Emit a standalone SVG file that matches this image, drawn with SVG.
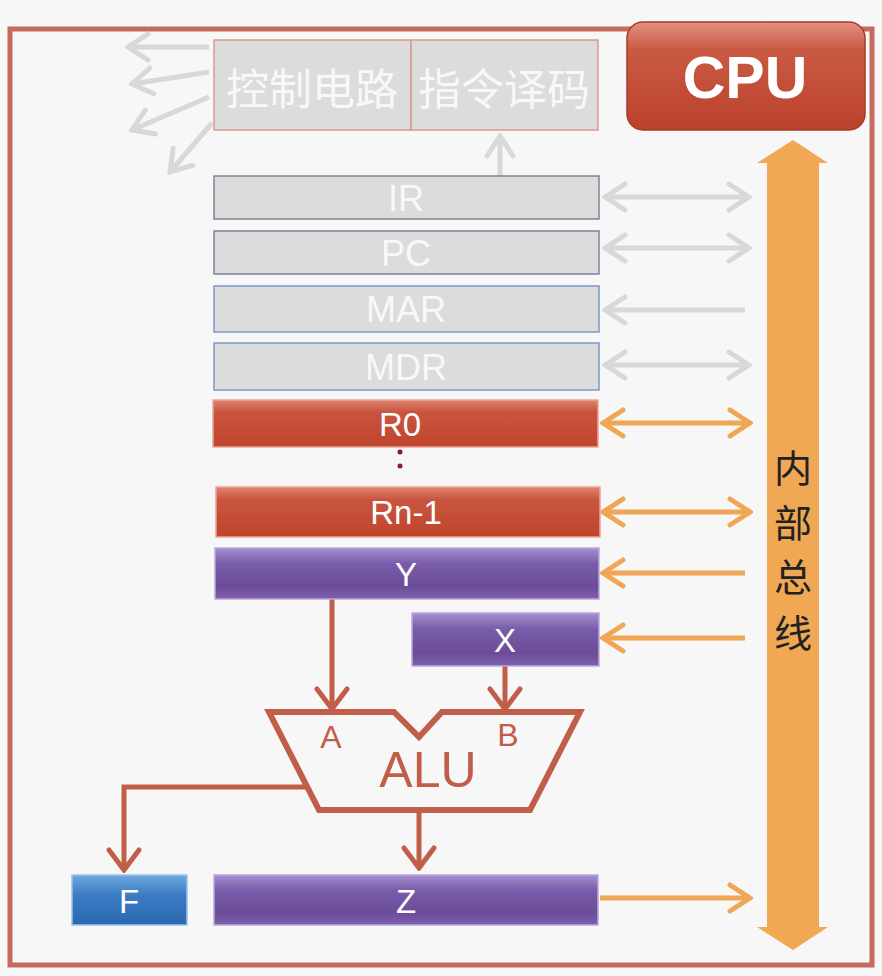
<svg xmlns="http://www.w3.org/2000/svg" width="882" height="976" viewBox="0 0 882 976">
<defs>
<style>
.reg{stroke-width:1.5}
.gray{fill:#dcdcdc}
.gtxt{fill:#f8f8f8;font-family:"Liberation Sans",Arial,sans-serif;font-size:36px;text-anchor:middle}
.wtxt{fill:#ffffff;font-family:"Liberation Sans",Arial,sans-serif;font-size:33px;text-anchor:middle}
.cjk{font-family:"Noto Sans CJK SC","Noto Sans CJK JP",sans-serif;text-anchor:middle;dominant-baseline:central}
.garr{stroke:#d8d8d8;stroke-width:5;fill:none}
.oarr{stroke:#f0a654;stroke-width:5;fill:none}
.rarr{stroke:#c15e49;stroke-width:5;fill:none}
</style>
<linearGradient id="gRed" x1="0" y1="0" x2="0" y2="1">
<stop offset="0" stop-color="#e08472"/><stop offset="0.25" stop-color="#c9553f"/><stop offset="1" stop-color="#c0442c"/>
</linearGradient>
<linearGradient id="gPur" x1="0" y1="0" x2="0" y2="1">
<stop offset="0" stop-color="#a68fcf"/><stop offset="0.3" stop-color="#7a5daa"/><stop offset="0.75" stop-color="#6a4c99"/><stop offset="1" stop-color="#7d60ad"/>
</linearGradient>
<linearGradient id="gBlue" x1="0" y1="0" x2="0" y2="1">
<stop offset="0" stop-color="#6fa9de"/><stop offset="0.4" stop-color="#3c7cc4"/><stop offset="1" stop-color="#2b68b0"/>
</linearGradient>
<linearGradient id="gCpu" x1="0" y1="0" x2="0" y2="1">
<stop offset="0" stop-color="#e29282"/><stop offset="0.25" stop-color="#c95a44"/><stop offset="1" stop-color="#bc412b"/>
</linearGradient>
<marker id="mg" viewBox="0 0 26 32" refX="23" refY="16" markerWidth="26" markerHeight="32" markerUnits="userSpaceOnUse" orient="auto-start-reverse">
<path d="M3,3 L23,16 L3,29" fill="none" stroke="#d8d8d8" stroke-width="5" stroke-linecap="round"/>
</marker>
<marker id="mo" viewBox="0 0 26 32" refX="23" refY="16" markerWidth="26" markerHeight="32" markerUnits="userSpaceOnUse" orient="auto-start-reverse">
<path d="M3,3 L23,16 L3,29" fill="none" stroke="#f0a654" stroke-width="5" stroke-linecap="round"/>
</marker>
<marker id="mr" viewBox="0 0 26 36" refX="23" refY="18" markerWidth="26" markerHeight="36" markerUnits="userSpaceOnUse" orient="auto">
<path d="M3,3 L23,18 L3,33" fill="none" stroke="#c15e49" stroke-width="5" stroke-linecap="round"/>
</marker>
</defs>
<rect x="0" y="0" width="882" height="976" fill="#f7f7f7"/>
<g id="frame">
<rect x="10" y="29" width="862" height="936" fill="none" stroke="#c46b5d" stroke-width="5"/>
</g>
<g id="connectors">
<line class="garr" x1="209" y1="47" x2="128" y2="47" marker-end="url(#mg)"/>
<line class="garr" x1="209" y1="72" x2="132" y2="84" marker-end="url(#mg)"/>
<line class="garr" x1="209" y1="97" x2="132" y2="130" marker-end="url(#mg)"/>
<line class="garr" x1="212" y1="123" x2="170" y2="172" marker-end="url(#mg)"/>
<line class="garr" x1="500" y1="176" x2="500" y2="136" marker-end="url(#mg)"/>
<line class="garr" x1="605" y1="197" x2="749" y2="197" marker-start="url(#mg)" marker-end="url(#mg)"/>
<line class="garr" x1="605" y1="248" x2="749" y2="248" marker-start="url(#mg)" marker-end="url(#mg)"/>
<line class="garr" x1="745" y1="310" x2="605" y2="310" marker-end="url(#mg)"/>
<line class="garr" x1="605" y1="365" x2="749" y2="365" marker-start="url(#mg)" marker-end="url(#mg)"/>
<line class="oarr" x1="603" y1="423" x2="750" y2="423" marker-start="url(#mo)" marker-end="url(#mo)"/>
<line class="oarr" x1="603" y1="512" x2="750" y2="512" marker-start="url(#mo)" marker-end="url(#mo)"/>
<line class="oarr" x1="745" y1="573" x2="603" y2="573" marker-end="url(#mo)"/>
<line class="oarr" x1="745" y1="638" x2="603" y2="638" marker-end="url(#mo)"/>
<line class="oarr" x1="600" y1="898" x2="750" y2="898" marker-end="url(#mo)"/>
<line class="rarr" x1="332" y1="599" x2="332" y2="709" marker-end="url(#mr)"/>
<line class="rarr" x1="505" y1="666" x2="505" y2="709" marker-end="url(#mr)"/>
<line class="rarr" x1="419" y1="811" x2="419" y2="868" marker-end="url(#mr)"/>
<polyline class="rarr" points="306,787 124,787 124,870" marker-end="url(#mr)"/>
</g>
<g id="bus">
<polygon points="793,140 828,163 819,163 819,927 828,927 793,950 757,927 767,927 767,163 757,163" fill="#f0a854"/>
<text class="cjk" x="793" y="465" font-size="38" fill="#222">内</text>
<text class="cjk" x="793" y="520" font-size="38" fill="#222">部</text>
<text class="cjk" x="793" y="574" font-size="38" fill="#222">总</text>
<text class="cjk" x="793" y="630" font-size="38" fill="#222">线</text>
</g>
<g id="cpu">
<rect x="627" y="22" width="238" height="108" rx="16" fill="url(#gCpu)" stroke="#a83a28" stroke-width="1.5"/>
<text x="745" y="98" fill="#ffffff" font-family="Liberation Sans,Arial,sans-serif" font-weight="bold" font-size="59" text-anchor="middle">CPU</text>
</g>
<g id="ctrl">
<rect x="214" y="40" width="197" height="90" class="gray" stroke="#d99a90" stroke-width="1.5"/>
<text class="cjk" x="312" y="86" font-size="43" fill="#f8f8f8">控制电路</text>
</g>
<g id="decode">
<rect x="411" y="40" width="187" height="90" class="gray" stroke="#d99a90" stroke-width="1.5"/>
<text class="cjk" x="504" y="86" font-size="43" fill="#f8f8f8">指令译码</text>
</g>
<g id="IR">
<rect x="214" y="176" width="385" height="43" class="gray reg" stroke="#808299"/>
<text class="gtxt" x="406" y="211">IR</text>
</g>
<g id="PC">
<rect x="214" y="231" width="385" height="43" class="gray reg" stroke="#7f839c"/>
<text class="gtxt" x="406" y="266">PC</text>
</g>
<g id="MAR">
<rect x="214" y="286" width="385" height="46" class="gray reg" stroke="#7d97cc"/>
<text class="gtxt" x="406" y="322">MAR</text>
</g>
<g id="MDR">
<rect x="214" y="343" width="385" height="47" class="gray reg" stroke="#7d97cc"/>
<text class="gtxt" x="406" y="380">MDR</text>
</g>
<g id="R0">
<rect x="213" y="400" width="385" height="47" fill="url(#gRed)" stroke="#eba595" class="reg"/>
<text class="wtxt" x="400" y="436">R0</text>
</g>
<g id="dots">
<circle cx="400" cy="452" r="2.5" fill="#8b1c1c"/>
<circle cx="400" cy="466" r="2.5" fill="#8b1c1c"/>
</g>
<g id="Rn-1">
<rect x="216" y="487" width="384" height="50" fill="url(#gRed)" stroke="#eba595" class="reg"/>
<text class="wtxt" x="406" y="524">Rn-1</text>
</g>
<g id="Y">
<rect x="215" y="548" width="384" height="51" fill="url(#gPur)" stroke="#bba8dc" class="reg"/>
<text class="wtxt" x="406" y="586" font-size="36">Y</text>
</g>
<g id="X">
<rect x="412" y="613" width="187" height="53" fill="url(#gPur)" stroke="#bba8dc" class="reg"/>
<text class="wtxt" x="505" y="652" font-size="36">X</text>
</g>
<g id="ALU">
<polygon points="269,712 394,712 419,737 442,712 580,712 530,810 319,810" fill="none" stroke="#c15e49" stroke-width="6" stroke-linejoin="miter"/>
<text x="331" y="748" fill="#c15e49" font-family="Liberation Sans,Arial,sans-serif" font-size="32" text-anchor="middle">A</text>
<text x="508" y="746" fill="#c15e49" font-family="Liberation Sans,Arial,sans-serif" font-size="32" text-anchor="middle">B</text>
<text x="428" y="787" fill="#c15e49" font-family="Liberation Sans,Arial,sans-serif" font-size="50" text-anchor="middle">ALU</text>
</g>
<g id="F">
<rect x="72" y="875" width="115" height="50" fill="url(#gBlue)" stroke="#9cc3ea" class="reg"/>
<text class="wtxt" x="129" y="913" font-size="36">F</text>
</g>
<g id="Z">
<rect x="214" y="875" width="384" height="50" fill="url(#gPur)" stroke="#bba8dc" class="reg"/>
<text class="wtxt" x="406" y="913" font-size="36">Z</text>
</g>
</svg>
